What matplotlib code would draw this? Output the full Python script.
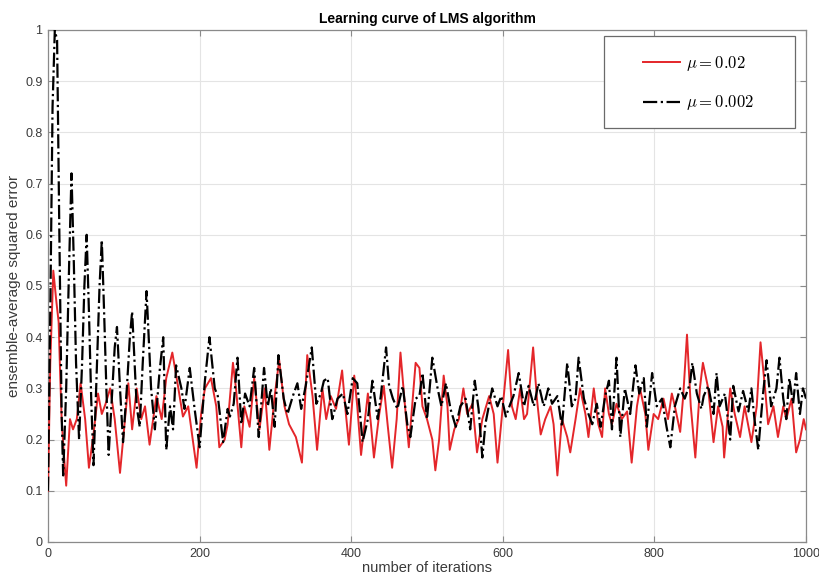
import matplotlib
matplotlib.use('Agg')
import matplotlib.pyplot as plt
from matplotlib.patches import Rectangle

# ---- data (turning points of each curve) ----
red_iter = [0, 3, 7, 11, 14, 16, 18, 21, 24, 29, 33, 38, 43, 49, 54, 60, 66, 71, 76, 82,
            88, 95, 101, 106, 111, 117, 123, 128, 134, 143, 150, 156, 164, 172, 178, 185, 191, 196, 202, 207,
            215, 222, 226, 233, 237, 244, 248, 255, 259, 266, 272, 279, 286, 292, 299, 305, 312, 318, 327, 335,
            342, 349, 355, 362, 367, 373, 380, 388, 393, 397, 404, 408, 413, 422, 426, 430, 437, 443, 448, 454,
            460, 465, 471, 476, 485, 490, 494, 500, 507, 511, 516, 522, 527, 530, 536, 542, 548, 553, 560, 566,
            573, 582, 588, 593, 599, 607, 612, 617, 623, 628, 632, 640, 645, 650, 656, 663, 667, 672, 678, 685,
            689, 696, 702, 709, 713, 720, 726, 731, 735, 740, 744, 750, 757, 764, 770, 777, 781, 788, 792, 799,
            805, 812, 818, 823, 827, 834, 838, 843, 848, 854, 860, 864, 871, 878, 884, 890, 892, 900, 906, 913,
            919, 928, 935, 940, 946, 950, 957, 963, 970, 974, 981, 987, 992, 997, 1000]
red_err = [0.10, 0.35, 0.53, 0.47, 0.43, 0.33, 0.24, 0.17, 0.11, 0.24, 0.22, 0.24, 0.31, 0.24, 0.145, 0.21, 0.29, 0.25, 0.27, 0.30,
           0.24, 0.135, 0.23, 0.31, 0.22, 0.30, 0.24, 0.265, 0.19, 0.285, 0.24, 0.32, 0.37, 0.30, 0.245, 0.265, 0.20, 0.145, 0.25, 0.30,
           0.32, 0.265, 0.185, 0.20, 0.23, 0.35, 0.30, 0.185, 0.265, 0.225, 0.32, 0.22, 0.30, 0.18, 0.285, 0.355, 0.265, 0.23, 0.205, 0.155,
           0.365, 0.285, 0.18, 0.30, 0.24, 0.285, 0.26, 0.335, 0.25, 0.19, 0.325, 0.265, 0.17, 0.29, 0.23, 0.165, 0.25, 0.305, 0.23, 0.145,
           0.24, 0.37, 0.265, 0.185, 0.35, 0.34, 0.265, 0.24, 0.20, 0.14, 0.20, 0.325, 0.265, 0.18, 0.22, 0.24, 0.30, 0.25, 0.27, 0.175,
           0.24, 0.285, 0.25, 0.155, 0.25, 0.375, 0.265, 0.24, 0.30, 0.24, 0.25, 0.38, 0.28, 0.21, 0.24, 0.265, 0.23, 0.13, 0.24, 0.205,
           0.175, 0.24, 0.30, 0.25, 0.205, 0.30, 0.23, 0.205, 0.30, 0.25, 0.23, 0.27, 0.24, 0.255, 0.155, 0.265, 0.30, 0.25, 0.18, 0.25,
           0.24, 0.28, 0.24, 0.29, 0.265, 0.215, 0.285, 0.405, 0.265, 0.165, 0.30, 0.35, 0.30, 0.195, 0.265, 0.225, 0.165, 0.30, 0.25, 0.205,
           0.265, 0.195, 0.265, 0.39, 0.30, 0.23, 0.265, 0.205, 0.265, 0.24, 0.28, 0.175, 0.20, 0.24, 0.22]

blk_iter = [0, 3, 6, 9, 12, 15, 18, 20, 24, 28, 31, 34, 37, 41, 45, 48, 51, 54, 57, 60,
            64, 68, 71, 74, 77, 80, 85, 88, 91, 95, 99, 104, 108, 111, 117, 121, 125, 130, 136, 141,
            147, 152, 156, 161, 165, 169, 176, 180, 187, 193, 200, 207, 213, 220, 224, 231, 237, 240, 245, 250,
            255, 260, 266, 272, 278, 285, 290, 294, 299, 304, 311, 316, 323, 329, 334, 340, 348, 354, 360, 364,
            369, 375, 382, 389, 395, 402, 408, 415, 422, 428, 435, 439, 446, 450, 455, 461, 468, 474, 478, 485,
            490, 494, 500, 507, 514, 519, 525, 531, 538, 544, 551, 557, 563, 568, 573, 577, 586, 593, 598, 604,
            610, 614, 621, 628, 634, 641, 647, 654, 660, 665, 672, 678, 685, 691, 696, 700, 707, 713, 718, 724,
            729, 735, 740, 744, 750, 755, 761, 768, 775, 780, 786, 790, 797, 803, 810, 816, 821, 827, 834, 840,
            847, 850, 856, 862, 865, 871, 878, 882, 886, 893, 900, 904, 911, 917, 924, 928, 932, 937, 943, 948,
            954, 961, 965, 970, 974, 978, 983, 987, 992, 996, 1000]
blk_err = [0.10, 0.45, 0.85, 1.00, 0.98, 0.60, 0.25, 0.13, 0.30, 0.55, 0.72, 0.55, 0.35, 0.20, 0.35, 0.50, 0.60, 0.45, 0.28, 0.15,
           0.32, 0.50, 0.59, 0.45, 0.30, 0.17, 0.30, 0.38, 0.42, 0.30, 0.195, 0.30, 0.40, 0.45, 0.265, 0.225, 0.35, 0.49, 0.30, 0.22,
           0.33, 0.40, 0.18, 0.265, 0.22, 0.345, 0.30, 0.26, 0.34, 0.265, 0.185, 0.315, 0.40, 0.30, 0.285, 0.195, 0.26, 0.245, 0.27, 0.36,
           0.23, 0.29, 0.265, 0.34, 0.205, 0.34, 0.265, 0.30, 0.225, 0.365, 0.28, 0.25, 0.285, 0.31, 0.26, 0.305, 0.38, 0.27, 0.29, 0.315,
           0.32, 0.24, 0.28, 0.29, 0.25, 0.32, 0.31, 0.195, 0.24, 0.315, 0.24, 0.285, 0.38, 0.305, 0.28, 0.26, 0.305, 0.23, 0.205, 0.28,
           0.285, 0.33, 0.24, 0.36, 0.30, 0.265, 0.31, 0.26, 0.225, 0.265, 0.28, 0.22, 0.315, 0.26, 0.165, 0.23, 0.30, 0.265, 0.285, 0.245,
           0.27, 0.285, 0.33, 0.265, 0.305, 0.265, 0.31, 0.265, 0.30, 0.27, 0.285, 0.225, 0.35, 0.265, 0.28, 0.36, 0.28, 0.25, 0.23, 0.27,
           0.225, 0.285, 0.315, 0.22, 0.36, 0.205, 0.30, 0.25, 0.345, 0.29, 0.32, 0.225, 0.33, 0.265, 0.28, 0.225, 0.185, 0.265, 0.30, 0.28,
           0.31, 0.35, 0.29, 0.26, 0.285, 0.305, 0.25, 0.33, 0.265, 0.29, 0.20, 0.305, 0.255, 0.295, 0.255, 0.30, 0.24, 0.18, 0.285, 0.355,
           0.265, 0.30, 0.36, 0.28, 0.24, 0.32, 0.27, 0.33, 0.25, 0.30, 0.28]

x_ticks = [0, 200, 400, 600, 800, 1000]
y_ticks = [0, 0.1, 0.2, 0.3, 0.4, 0.5, 0.6, 0.7, 0.8, 0.9, 1]
y_tick_labels = ['0', '0.1', '0.2', '0.3', '0.4', '0.5', '0.6', '0.7', '0.8', '0.9', '1']
labels = [r'$\mu = 0.02$', r'$\mu = 0.002$']

plt.rcParams['font.family'] = ['Liberation Sans', 'DejaVu Sans']
plt.rcParams['mathtext.fontset'] = 'cm'

W, H = 820, 578
L, R, T, B = 48, 806, 30, 542
fig = plt.figure(figsize=(W / 100, H / 100), dpi=100)
ax = fig.add_axes([L / W, 1 - B / H, (R - L) / W, (B - T) / H])

ax.plot(red_iter, red_err, color='#e4262a', lw=1.4, label=labels[0], zorder=3)
ax.plot(blk_iter, blk_err, color='black', lw=1.6, ls='-.', label=labels[1], zorder=4)

ax.set_xlim(0, 1000)
ax.set_ylim(0, 1)
ax.set_xticks(x_ticks)
ax.set_yticks(y_ticks)
ax.set_yticklabels(y_tick_labels)
ax.grid(True, color='#e4e4e4', lw=0.8)
ax.set_axisbelow(True)
ax.tick_params(direction='in', top=True, right=True, length=4, width=0.8,
               colors='#8a8a8a', labelcolor='#3a3a3a', labelsize=9, pad=4)
for s in ax.spines.values():
    s.set_color('#8a8a8a')
    s.set_linewidth(0.9)

ax.set_title('Learning curve of LMS algorithm', fontsize=10, fontweight='bold', pad=5)
ax.set_xlabel('number of iterations', fontsize=10.5, color='#3a3a3a', labelpad=1)
ax.set_ylabel('ensemble-average squared error', fontsize=11, color='#3a3a3a', labelpad=3)


def ax_x(px):
    return (px - L) / (R - L)


def ax_y(py):
    return (B - py) / (B - T)


# legend entries (frame drawn separately to get MATLAB-like wide padding)
leg = ax.legend(loc='center left', bbox_to_anchor=(ax_x(643), ax_y(83)),
                borderaxespad=0, fontsize=12, frameon=False,
                borderpad=0, handlelength=2.2, handletextpad=0.4, labelspacing=1.25)
leg.set_zorder(6)
frame = Rectangle((ax_x(604), ax_y(128)), ax_x(795) - ax_x(604), ax_y(36) - ax_y(128),
                  transform=ax.transAxes, facecolor='white', edgecolor='#6a6a6a',
                  linewidth=0.9, zorder=5)
ax.add_patch(frame)

fig.savefig('out.png', dpi=100)
